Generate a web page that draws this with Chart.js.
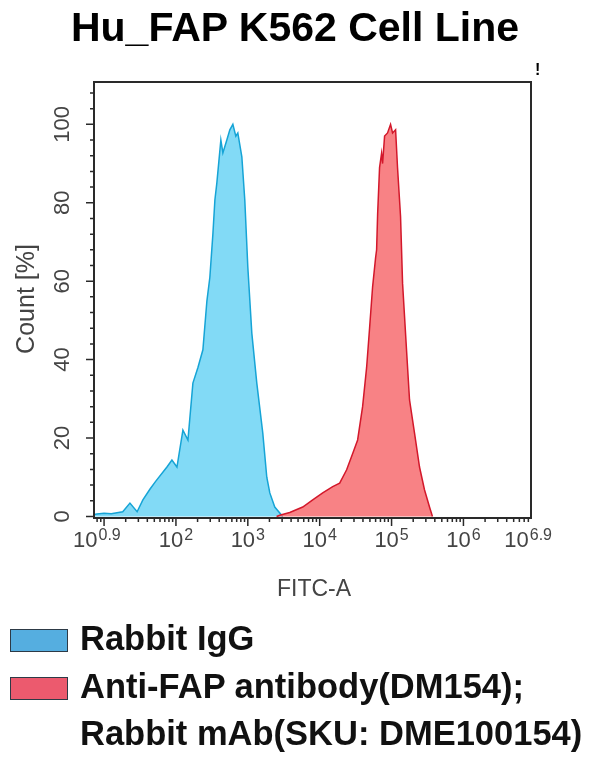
<!DOCTYPE html>
<html>
<head>
<meta charset="utf-8">
<script src="https://cdn.jsdelivr.net/npm/chart.js@4.4.1/dist/chart.umd.min.js"></script>
<style>
    body { margin: 0; background: #fff; width: 600px; height: 758px; overflow: hidden; position: relative; font-family: "Liberation Sans", Arial, sans-serif; }
    #chartBox { position: absolute; left: 0; top: 0; width: 600px; height: 758px; }
    .titulo { position: absolute; left: 0; top: 7px; width: 590px; text-align: center; font-weight: bold; font-size: 41px; line-height: 41px; color: #000; }
    .marca { position: absolute; left: 535px; top: 62px; font-weight: bold; font-size: 16px; line-height: 16px; color: #000; }
    .legenda { position: absolute; left: 0; top: 0; font-weight: bold; font-size: 34.5px; line-height: 47px; color: #111; }
    .item { position: absolute; left: 80px; white-space: nowrap; }
    .caixa { position: absolute; left: 10px; width: 56px; height: 21px; border: 1px solid #2d3a46; }
</style>
</head>
<body>
<div id="chartBox"><canvas id="chartHistograma"></canvas></div>
<div class="titulo">Hu_FAP K562 Cell Line</div>
<div class="marca">!</div>
<div class="legenda">
    <div class="caixa" style="top:629px;background:#55aee0;"></div>
    <div class="item" style="top:615px;">Rabbit IgG</div>
    <div class="caixa" style="top:677px;background:#ec5a6e;"></div>
    <div class="item" style="top:663px;">Anti-FAP antibody(DM154);</div>
    <div class="item" style="top:710px;">Rabbit mAb(SKU: DME100154)</div>
</div>
<script>
// FITC-A em log10, Count em %
var iggLog = [0.86, 0.90, 1.00, 1.10, 1.26, 1.36, 1.46, 1.54, 1.64, 1.72, 1.875, 1.944, 2.014, 2.097, 2.167, 2.236, 2.306, 2.375, 2.431, 2.472, 2.514, 2.542, 2.569, 2.625, 2.653, 2.708, 2.75, 2.792, 2.833, 2.861, 2.917, 2.958, 3.0, 3.056, 3.125, 3.208, 3.264, 3.306, 3.375, 3.486];
var iggCount = [0.5, 0.6, 0.8, 0.7, 1.2, 3.4, 1.2, 4.2, 7.0, 9.0, 12.6, 14.4, 12.6, 22, 19.5, 34, 38, 42.5, 55, 61, 72, 80.7, 85, 96, 92.7, 96, 98.6, 100, 97, 97.8, 91.7, 80.7, 63.6, 46.7, 34, 21.3, 10, 6, 2.4, 0];

var fapLog = [3.40, 3.444, 3.583, 3.764, 3.903, 4.042, 4.181, 4.278, 4.375, 4.458, 4.528, 4.597, 4.653, 4.694, 4.736, 4.778, 4.792, 4.806, 4.833, 4.861, 4.875, 4.903, 4.944, 4.986, 5.014, 5.056, 5.083, 5.125, 5.153, 5.208, 5.25, 5.319, 5.389, 5.458, 5.528, 5.569];
var fapCount = [0, 0.3, 1, 2.4, 4.2, 6, 7.6, 8.5, 11.9, 16, 19.5, 28, 38, 48, 58.5, 66, 68, 77, 89, 92.6, 90, 97, 97.8, 100, 97.8, 98.6, 89, 76.5, 59.5, 42.5, 29.7, 21.3, 12.6, 6.8, 2.4, 0];

var yTicks = [0, 20, 40, 60, 80, 100];
var xTickPos = [0.9, 2, 3, 4, 5, 6, 6.9];
var xTickExp = ['0.9', '2', '3', '4', '5', '6', '6.9'];

var fonte = '"Liberation Sans", Arial, sans-serif';

function montaPontos(xs, ys) {
    var pts = [];
    for (var i = 0; i < xs.length; i++) {
        pts.push({ x: xs[i], y: ys[i] });
    }
    return pts;
}

var eixosPlugin = {
    id: 'eixos',
    afterDatasetsDraw: function (chart) {
        var ctx = chart.ctx;
        var a = chart.chartArea;
        var sx = chart.scales.x;
        var sy = chart.scales.y;
        ctx.save();
        ctx.strokeStyle = '#2a2a2a';
        ctx.lineWidth = 2;
        ctx.strokeRect(a.left, a.top, a.right - a.left, a.bottom - a.top);

        // ticks y
        ctx.lineWidth = 1.5;
        ctx.beginPath();
        for (var v = 0; v <= 108; v += 4) {
            var py = sy.getPixelForValue(v);
            var len = (v % 20 === 0) ? 8 : 4;
            ctx.moveTo(a.left - len, py);
            ctx.lineTo(a.left, py);
        }
        // ticks x (log)
        for (var n = 0; n <= 6; n++) {
            for (var k = 1; k <= 9; k++) {
                var lg = n + Math.log10(k);
                if (lg < sx.min || lg > sx.max) continue;
                var px = sx.getPixelForValue(lg);
                var l2 = (k === 1) ? 8 : 4;
                ctx.moveTo(px, a.bottom);
                ctx.lineTo(px, a.bottom + l2);
            }
        }
        ctx.stroke();

        ctx.fillStyle = '#444';
        // labels y (rotacionados)
        ctx.font = '22px ' + fonte;
        ctx.textAlign = 'center';
        ctx.textBaseline = 'middle';
        yTicks.forEach(function (t) {
            ctx.save();
            ctx.translate(63, sy.getPixelForValue(t));
            ctx.rotate(-Math.PI / 2);
            ctx.fillText(String(t), 0, 0);
            ctx.restore();
        });

        // labels x com expoente
        ctx.textAlign = 'left';
        ctx.textBaseline = 'alphabetic';
        xTickPos.forEach(function (p, i) {
            ctx.font = '22px ' + fonte;
            var wBase = ctx.measureText('10').width;
            ctx.font = '16px ' + fonte;
            var wExp = ctx.measureText(xTickExp[i]).width;
            var x0 = sx.getPixelForValue(p) - (wBase + 1 + wExp) / 2;
            ctx.font = '22px ' + fonte;
            ctx.fillText('10', x0, 547);
            ctx.font = '16px ' + fonte;
            ctx.fillText(xTickExp[i], x0 + wBase + 1, 540);
        });

        // titulos dos eixos
        ctx.font = '23px ' + fonte;
        ctx.textAlign = 'center';
        ctx.textBaseline = 'middle';
        ctx.fillText('FITC-A', 314, 590);
        ctx.font = '25px ' + fonte;
        ctx.save();
        ctx.translate(27, 299);
        ctx.rotate(-Math.PI / 2);
        ctx.fillText('Count [%]', 0, 0);
        ctx.restore();
        ctx.restore();
    }
};

var ctx = document.getElementById('chartHistograma');
var chart = new Chart(ctx, {
    type: 'line',
    data: {
        datasets: [{
            label: 'Anti-FAP antibody(DM154)',
            data: montaPontos(fapLog, fapCount),
            borderColor: '#d3182b',
            backgroundColor: 'rgba(247,108,112,0.85)',
            borderWidth: 1.5,
            fill: 'origin'
        }, {
            label: 'Rabbit IgG',
            data: montaPontos(iggLog, iggCount),
            borderColor: '#16a4d6',
            backgroundColor: 'rgba(108,212,244,0.85)',
            borderWidth: 1.5,
            fill: 'origin'
        }]
    },
    options: {
        responsive: true,
        maintainAspectRatio: false,
        animation: false,
        layout: { padding: { left: 94, top: 82, right: 69, bottom: 240 } },
        elements: { point: { radius: 0 }, line: { tension: 0 } },
        plugins: { legend: { display: false }, tooltip: { enabled: false } },
        scales: {
            x: { type: 'linear', min: 0.86, max: 6.94, display: false },
            y: { min: -0.4, max: 110.8, display: false }
        }
    },
    plugins: [eixosPlugin]
});
</script>
</body>
</html>
